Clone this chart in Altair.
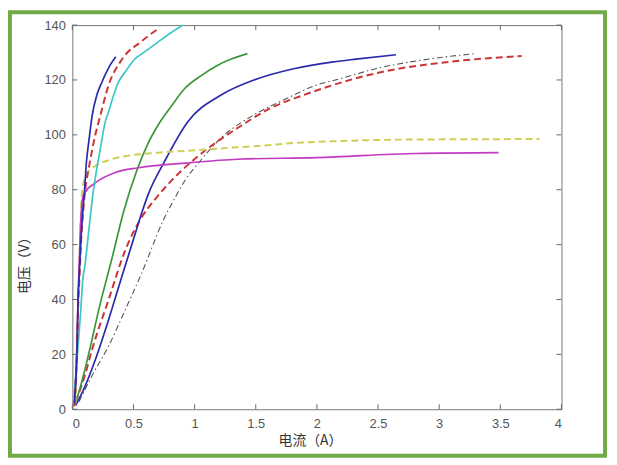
import altair as alt
import pandas as pd

# ---- axis ticks ----
x_ticks = [0, 0.5, 1, 1.5, 2, 2.5, 3, 3.5, 4]
y_ticks = [0, 20, 40, 60, 80, 100, 120, 140]

# ---- series data (current A, voltage V) ----
blue_steep_x = [0.015, 0.03, 0.04, 0.045, 0.055, 0.068, 0.085, 0.10, 0.115, 0.135, 0.162, 0.20, 0.24, 0.27, 0.31, 0.355]
blue_steep_y = [2, 12, 25, 38, 48, 60, 72, 80, 90, 97.7, 107, 114.5, 119, 122, 125.5, 128.5]

red_steep_x = [0.015, 0.03, 0.04, 0.048, 0.058, 0.07, 0.088, 0.105, 0.135, 0.176, 0.23, 0.297, 0.392, 0.45, 0.54, 0.62, 0.70]
red_steep_y = [1, 12, 25, 38, 48, 60, 72, 80, 88, 97.7, 107.3, 118.2, 126.6, 130, 133.2, 136, 138.6]

cyan_x = [0.012, 0.03, 0.054, 0.07, 0.085, 0.105, 0.122, 0.149, 0.17, 0.19, 0.225, 0.27, 0.297, 0.338, 0.378, 0.433, 0.514, 0.567, 0.70, 0.80, 0.905]
cyan_y = [4, 14, 27, 37, 47, 53, 60, 71, 79, 85, 94, 104.9, 108.5, 114.5, 119.3, 123, 127.8, 129.5, 133.8, 137, 140]

green_x = [0.02, 0.054, 0.10, 0.149, 0.216, 0.324, 0.419, 0.527, 0.62, 0.703, 0.81, 0.919, 1.05, 1.189, 1.31, 1.432]
green_y = [2, 6.3, 14, 23.1, 36.3, 55, 72, 87, 97, 103.7, 110.5, 116.9, 121.5, 125.4, 127.8, 129.6]

blue_mid_x = [0.027, 0.10, 0.19, 0.297, 0.405, 0.514, 0.567, 0.622, 0.75, 0.946, 1.216, 1.486, 1.81, 2.135, 2.32, 2.647]
blue_mid_y = [1.4, 8, 18.3, 32.7, 48.4, 64, 71.5, 78.5, 90, 104.9, 114.5, 120, 124.1, 126.6, 127.6, 129.2]

red_mid_x = [0.027, 0.10, 0.162, 0.297, 0.433, 0.567, 0.676, 0.81, 1.081, 1.351, 1.62, 1.891, 2.135, 2.54, 3.08, 3.674]
red_mid_y = [2.7, 12, 21.9, 40, 58, 70, 76.5, 83.3, 94.1, 102.5, 109.7, 114.5, 118.2, 123, 126.6, 128.7]

gray_x = [0.054, 0.162, 0.297, 0.433, 0.567, 0.743, 0.838, 0.93, 1.027, 1.216, 1.486, 1.756, 2.0, 2.135, 2.54, 2.945, 3.296]
gray_y = [2.7, 12.3, 23.1, 36.3, 49.6, 68.8, 77, 84, 89.5, 98.9, 107.3, 113.3, 118.2, 119.8, 124.7, 127.8, 129.6]

yellow_x = [0.025, 0.035, 0.045, 0.055, 0.065, 0.081, 0.12, 0.19, 0.30, 0.541, 0.703, 1.108, 1.351, 1.513, 1.8, 2.16, 2.783, 3.35, 3.82]
yellow_y = [2, 15, 35, 50, 65, 80, 86, 88.7, 90.8, 92.9, 93.5, 94.7, 95.5, 95.9, 97, 97.7, 98.3, 98.4, 98.5]

magenta_x = [0.02, 0.035, 0.05, 0.065, 0.08, 0.095, 0.19, 0.352, 0.541, 0.972, 1.351, 2.0, 2.81, 3.485]
magenta_y = [2, 20, 45, 65, 76, 78.5, 82.6, 86.3, 88, 89.9, 91.1, 91.7, 93.2, 93.5]

series = [
    (gray_x, gray_y),
    (red_mid_x, red_mid_y),
    (blue_mid_x, blue_mid_y),
    (green_x, green_y),
    (yellow_x, yellow_y),
    (magenta_x, magenta_y),
    (cyan_x, cyan_y),
    (red_steep_x, red_steep_y),
    (blue_steep_x, blue_steep_y),
]
styles = [
    dict(color="#555555", strokeDash=[6, 3, 1.5, 3], strokeWidth=1.1),
    dict(color="#cc3535", strokeDash=[7, 4], strokeWidth=2),
    dict(color="#2a2aac", strokeWidth=1.7),
    dict(color="#3a963a", strokeWidth=1.7),
    dict(color="#cfcf55", strokeDash=[7, 4], strokeWidth=2),
    dict(color="#c23cc2", strokeWidth=1.7),
    dict(color="#3cc6c6", strokeWidth=1.7),
    dict(color="#cc3535", strokeDash=[7, 4], strokeWidth=2),
    dict(color="#2a2aac", strokeWidth=1.7),
]

W, H = 494, 388
xscale = alt.Scale(domain=[0, 4], nice=False, zero=False)
yscale = alt.Scale(domain=[0, 140], nice=False, zero=False)

x_axis = alt.Axis(
    values=x_ticks, format="~g", tickSize=0, domain=False, grid=False,
    labelPadding=8, labelFontSize=13, labelColor="#555555", labelFont="Liberation Sans",
    title="电流（A）", titleFont="Noto Sans CJK SC", titleFontSize=14, titleFontWeight="normal",
    titleColor="#333333", titleX=240, titleY=25, titleBaseline="top",
)
y_axis = alt.Axis(
    values=y_ticks, tickSize=0, domain=False, grid=False,
    labelPadding=7, labelFontSize=13, labelColor="#555555", labelFont="Liberation Sans",
    title="电压（V）", titleFont="Noto Sans CJK SC", titleFontSize=14, titleFontWeight="normal",
    titleColor="#333333", titleX=-41, titleY=239, titleAngle=270, titleAlign="center",
    titleBaseline="bottom",
)

layers = []
for (xs, ys), st in zip(series, styles):
    df = pd.DataFrame({"x": xs, "y": ys})
    layers.append(
        alt.Chart(df).mark_line(interpolate="monotone", **st).encode(
            x=alt.X("x:Q", scale=xscale, axis=x_axis),
            y=alt.Y("y:Q", scale=yscale, axis=y_axis),
        )
    )

xt = pd.DataFrame({"t": x_ticks})
yt = pd.DataFrame({"t": y_ticks})
tick_color = "#666666"
bottom_ticks = alt.Chart(xt).mark_rule(color=tick_color, strokeWidth=1).encode(
    x=alt.X("t:Q", scale=xscale, axis=x_axis), y=alt.value(H), y2=alt.value(H - 5))
top_ticks = alt.Chart(xt).mark_rule(color=tick_color, strokeWidth=1).encode(
    x=alt.X("t:Q", scale=xscale, axis=x_axis), y=alt.value(0), y2=alt.value(5))
left_ticks = alt.Chart(yt).mark_rule(color=tick_color, strokeWidth=1).encode(
    y=alt.Y("t:Q", scale=yscale, axis=y_axis), x=alt.value(0), x2=alt.value(5))
right_ticks = alt.Chart(yt).mark_rule(color=tick_color, strokeWidth=1).encode(
    y=alt.Y("t:Q", scale=yscale, axis=y_axis), x=alt.value(W), x2=alt.value(W - 5))

border = alt.Chart(pd.DataFrame({"a": [0]})).mark_rect(
    fillOpacity=0, stroke="#70ab48", strokeWidth=4
).encode(x=alt.value(-63), x2=alt.value(538), y=alt.value(-13), y2=alt.value(435))

chart = alt.layer(
    *layers, bottom_ticks, top_ticks, left_ticks, right_ticks, border
).properties(
    width=W, height=H,
    autosize=alt.AutoSizeParams(type="none"),
    padding={"left": 65, "top": 15, "right": 48, "bottom": 49},
    background="white",
).configure_view(stroke="#777777", strokeWidth=1)

chart.save("out.html", embed_options={"renderer": "svg", "actions": False})
